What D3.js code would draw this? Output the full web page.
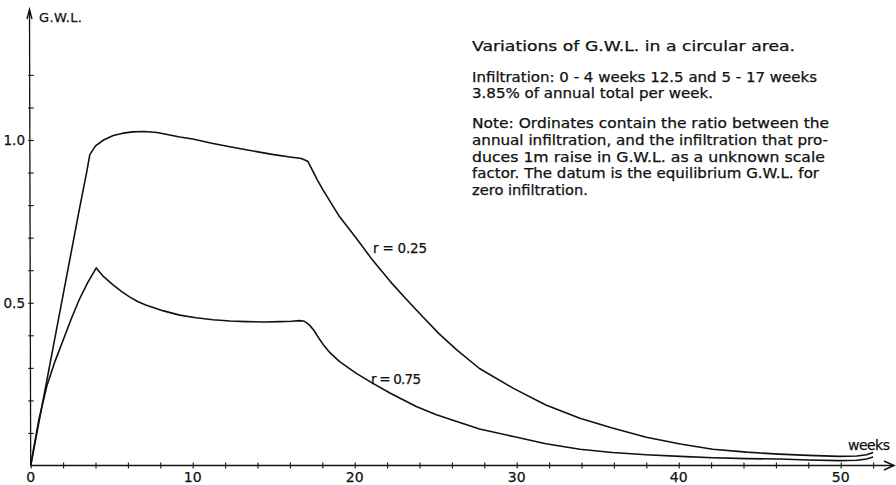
<!DOCTYPE html>
<html>
<head>
<meta charset="utf-8">
<script src="https://cdn.jsdelivr.net/npm/d3@7"></script>
<style>
  body { margin: 0; background: #fff; }
  text { font-family: "DejaVu Sans", sans-serif; fill: #111; stroke: #111; stroke-width: 0.25px; }
</style>
</head>
<body>
<div id="chart"></div>
<script>
// weeks / ratio readings for each curve
const weeksR025 = [0, 1, 2, 3, 3.45, 3.65, 4, 4.5, 5.1, 5.7, 6.3, 7, 7.8, 8.5, 9.2, 10, 11.25, 12.3, 13.3, 14.2, 15, 16, 16.7, 17.1, 17.7, 18.05, 19.07, 20.1, 21.1, 22.2, 23.2, 24.2, 25.2, 26.3, 27.7, 29.8, 31.8, 33.9, 35.9, 38, 40.1, 42.1, 44.2, 46.2, 48, 49.9, 51, 51.6, 52];
const gwlR025   = [0, 0.262, 0.524, 0.786, 0.9, 0.955, 0.982, 1.0, 1.014, 1.021, 1.025, 1.026, 1.023, 1.016, 1.009, 1.003, 0.989, 0.979, 0.970, 0.962, 0.955, 0.948, 0.943, 0.935, 0.877, 0.846, 0.764, 0.698, 0.631, 0.565, 0.51, 0.457, 0.405, 0.355, 0.298, 0.237, 0.186, 0.145, 0.115, 0.087, 0.066, 0.05, 0.041, 0.035, 0.031, 0.028, 0.029, 0.033, 0.04];

const weeksR075 = [0, 0.5, 1, 1.5, 2, 2.5, 3, 3.5, 4.05, 4.5, 5.1, 5.6, 6.1, 6.6, 7.1, 8.2, 9.2, 10.2, 11.25, 12.3, 13.3, 14.4, 15.4, 16.1, 16.6, 16.9, 17.2, 17.5, 17.8, 18.05, 18.5, 19.07, 20.1, 21.1, 22.2, 23.8, 25, 26.3, 27.7, 29.8, 31.8, 33.9, 35.9, 38, 40.1, 42.1, 44.2, 46.2, 48, 49.9, 51, 51.6, 52];
const gwlR075   = [0, 0.14, 0.245, 0.32, 0.385, 0.45, 0.51, 0.56, 0.607, 0.58, 0.554, 0.535, 0.518, 0.504, 0.493, 0.475, 0.462, 0.454, 0.448, 0.444, 0.442, 0.441, 0.442, 0.443, 0.445, 0.443, 0.432, 0.414, 0.39, 0.372, 0.345, 0.319, 0.283, 0.253, 0.222, 0.181, 0.157, 0.135, 0.112, 0.089, 0.067, 0.05, 0.04, 0.033, 0.028, 0.024, 0.021, 0.02, 0.017, 0.015, 0.016, 0.02, 0.026];

const xTicks = d3.range(0, 53, 2);
const xLabels = [0, 10, 20, 30, 40, 50];
const yTicks = [0.1, 0.2, 0.3, 0.4, 0.5, 0.6, 0.7, 0.8, 0.9, 1.0, 1.1, 1.2];
const yLabels = [0.5, 1.0];

const noteLines = [
  "Variations of G.W.L. in a circular area.",
  "Infiltration: 0 - 4 weeks 12.5 and  5 - 17 weeks",
  "3.85% of annual total per week.",
  "Note: Ordinates contain the ratio between the",
  "annual infiltration, and the infiltration that pro-",
  "duces 1m raise in G.W.L. as a unknown scale",
  "factor. The datum is the equilibrium G.W.L. for",
  "zero infiltration."
];
const noteY = [50.5, 81.7, 97.5, 128.3, 145, 161.7, 178.3, 194.7];
const noteW = [323, 345, 241, 357, 356, 353, 347, 116];

const width = 896, height = 485;

const svg = d3.select("#chart")
    .append("svg")
    .attr("width", width)
    .attr("height", height);

const x = d3.scaleLinear().domain([0, 50]).range([30.7, 840.7]);
const y = d3.scaleLinear().domain([0, 1]).range([465.5, 140]);

// axes lines with arrows
svg.append("line")
    .attr("x1", x(0)).attr("y1", y(0))
    .attr("x2", 894).attr("y2", y(0))
    .attr("stroke", "#111").attr("stroke-width", 1.3);
svg.append("path")
    .attr("d", `M884,${y(0) - 4.5} L894,${y(0)} L884,${y(0) + 4.5}`)
    .attr("fill", "none").attr("stroke", "#111").attr("stroke-width", 1.5);

svg.append("line")
    .attr("x1", x(0)).attr("y1", y(0))
    .attr("x2", 29.5).attr("y2", 10)
    .attr("stroke", "#111").attr("stroke-width", 1.3);
svg.append("path")
    .attr("d", "M27,19 L29.5,9.5 L32,19")
    .attr("fill", "none").attr("stroke", "#111").attr("stroke-width", 1.4);

// x ticks crossing the axis
const xAxis = svg.append("g")
    .attr("transform", `translate(0,${y(0)})`)
    .call(d3.axisBottom(x).tickValues(xTicks).tickSize(3).tickFormat(""));
xAxis.select(".domain").remove();
xAxis.selectAll(".tick line").attr("y1", -3).attr("y2", 3).attr("stroke", "#111").attr("stroke-width", 1.1);

svg.selectAll(".xlab")
    .data(xLabels)
    .enter()
    .append("text")
    .attr("x", d => x(d))
    .attr("y", 482)
    .attr("text-anchor", "middle")
    .attr("font-size", 14)
    .text(d => d);

const yAxis = svg.append("g")
    .attr("transform", `translate(${x(0)},0)`)
    .call(d3.axisLeft(y).tickValues(yTicks).tickSize(3).tickFormat(""));
yAxis.select(".domain").remove();
yAxis.selectAll(".tick line").attr("x1", -2.5).attr("x2", 3).attr("stroke", "#111").attr("stroke-width", 1.1);

svg.selectAll(".ylab")
    .data(yLabels)
    .enter()
    .append("text")
    .attr("x", 25)
    .attr("y", d => y(d) + 5)
    .attr("text-anchor", "end")
    .attr("font-size", 13.5)
    .text(d => d.toFixed(1));

// curves
const line = d3.line()
    .x(d => x(d[0]))
    .y(d => y(d[1]));

[[weeksR025, gwlR025], [weeksR075, gwlR075]].forEach(([w, v]) => {
    svg.append("path")
        .datum(w.map((d, i) => [d, v[i]]))
        .attr("d", line)
        .attr("fill", "none")
        .attr("stroke", "#111")
        .attr("stroke-width", 1.6)
        .attr("stroke-linejoin", "round");
});

// labels
svg.append("text").attr("x", 373).attr("y", 253).attr("font-size", 13.5)
    .attr("textLength", 54).text("r = 0.25");
svg.append("text").attr("x", 371).attr("y", 383.5).attr("font-size", 13.5)
    .attr("textLength", 50).text("r = 0.75");
svg.append("text").attr("x", 848).attr("y", 450).attr("font-size", 14)
    .attr("textLength", 42).text("weeks");
svg.append("text").attr("x", 39).attr("y", 22).attr("font-size", 13)
    .attr("textLength", 43).text("G.W.L.");

svg.selectAll(".note")
    .data(noteLines)
    .enter()
    .append("text")
    .attr("x", 472)
    .attr("y", (d, i) => noteY[i])
    .attr("font-size", 13.5)
    .attr("textLength", (d, i) => noteW[i])
    .attr("lengthAdjust", "spacingAndGlyphs")
    .text(d => d);
</script>
</body>
</html>
